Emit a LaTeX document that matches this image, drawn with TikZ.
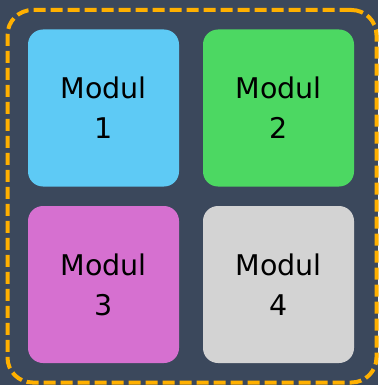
\documentclass[tikz,border=0pt]{standalone}
\usepackage{fontspec}
\setmainfont{DejaVu Sans}
\usepackage{xcolor}
\definecolor{slate}{RGB}{59,72,92}
\definecolor{amber}{RGB}{255,176,0}
\definecolor{skyblue}{RGB}{94,202,245}
\definecolor{leafgreen}{RGB}{76,216,98}
\definecolor{orchid}{RGB}{214,112,208}
\definecolor{silver}{RGB}{211,211,211}

\begin{document}
\begin{tikzpicture}[x=1pt, y=-1pt,
  modul/.style={rectangle, rounded corners=15pt, minimum width=151pt, minimum height=157pt, inner sep=0pt, align=center, font=\fontsize{28.5}{40}\selectfont, text=black}]
\fill[slate] (0,0) rectangle (378,385);
\useasboundingbox (0,0) rectangle (378,385);
\node[rectangle, rounded corners=25pt, draw=amber, line width=4pt, dash pattern=on 12pt off 5pt, minimum width=369pt, minimum height=372.5pt] (frame) at (192,196.25) {};
\node[modul, fill=skyblue] (modul1) at (103.5,108) {Modul\\1};
\node[modul, fill=leafgreen] (modul2) at (278.5,108) {Modul\\2};
\node[modul, fill=orchid] (modul3) at (103.5,284.5) {Modul\\3};
\node[modul, fill=silver] (modul4) at (278.5,284.5) {Modul\\4};
\end{tikzpicture}
\end{document}
